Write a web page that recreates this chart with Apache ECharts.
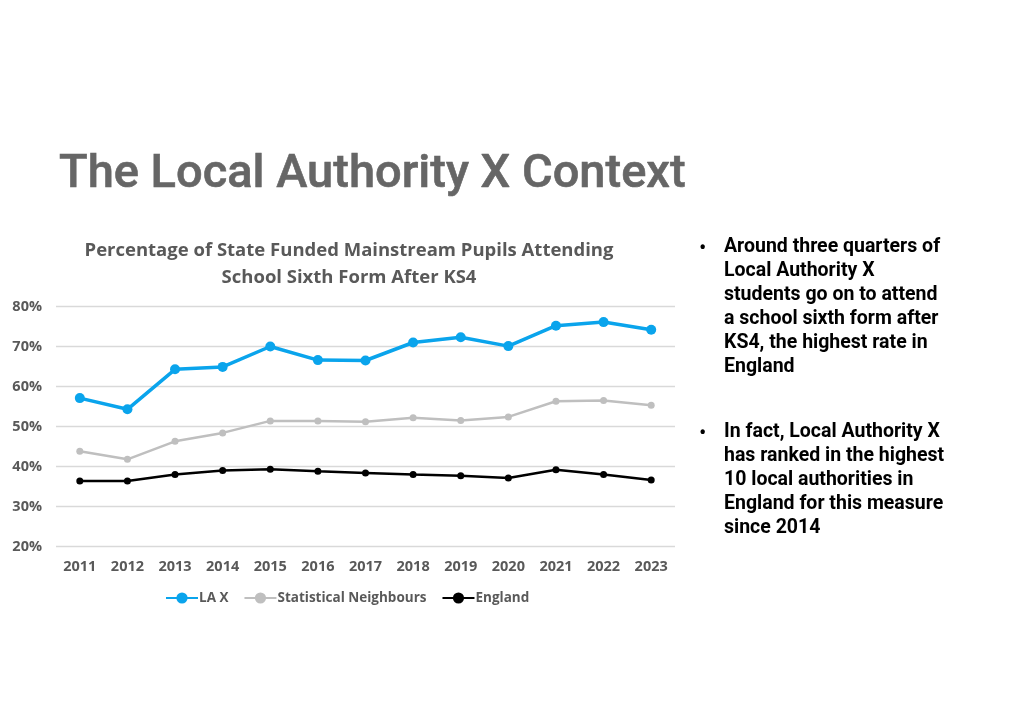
<!DOCTYPE html>
<html><head><meta charset="utf-8">
<script src="https://cdn.jsdelivr.net/npm/echarts@6/dist/echarts.min.js"></script>
<style>html,body{margin:0;padding:0;background:#fff}#c{width:1012px;height:714px}</style>
</head><body><div id="c"></div>
<script>
var years = ['2011','2012','2013','2014','2015','2016','2017','2018','2019','2020','2021','2022','2023'];
var laX = [57.1,54.3,64.3,64.9,70.0,66.6,66.5,71.0,72.3,70.1,75.2,76.1,74.2];
var statNeighbours = [43.8,41.8,46.3,48.4,51.4,51.4,51.2,52.2,51.5,52.4,56.3,56.5,55.3];
var england = [36.4,36.4,38.0,39.0,39.3,38.8,38.4,38.0,37.7,37.1,39.2,38.0,36.6];
var bullet1 = ['Around three quarters of','Local Authority X','students go on to attend','a school sixth form after','KS4, the highest rate in','England'];
var bullet2 = ['In fact, Local Authority X','has ranked in the highest','10 local authorities in','England for this measure','since 2014'];

var chart = echarts.init(document.getElementById('c'));
var lbl = '#595959';
var cfont = '"Open Sans", "DejaVu Sans", sans-serif';
chart.setOption({
  backgroundColor: '#fff',
  animation: false,
  title: [
    {text: 'The Local Authority X Context', left: 54, top: 147,
     textStyle: {fontFamily: 'Roboto, sans-serif', fontWeight: 500, fontSize: 47, color: '#666666', textBorderColor: '#666666', textBorderWidth: 0.6}},
    {text: 'Percentage of State Funded Mainstream Pupils Attending\nSchool Sixth Form After KS4', left: 344, top: 232, textAlign: 'center',
     textStyle: {fontFamily: cfont, fontWeight: 'bold', fontSize: 18.5, color: lbl, lineHeight: 27}}
  ],
  graphic: [
    {type: 'text', left: 699, top: 238, style: {text: '•', fontFamily: 'Roboto, sans-serif', fontSize: 22, fill: '#000'}},
    {type: 'text', left: 724, top: 235, style: {text: bullet1.join('\n'), fontFamily: 'Roboto, sans-serif', fontWeight: 'bold', fontSize: 19.5, lineHeight: 24, fill: '#000'}},
    {type: 'text', left: 699, top: 423, style: {text: '•', fontFamily: 'Roboto, sans-serif', fontSize: 22, fill: '#000'}},
    {type: 'text', left: 724, top: 420, style: {text: bullet2.join('\n'), fontFamily: 'Roboto, sans-serif', fontWeight: 'bold', fontSize: 19.5, lineHeight: 24, fill: '#000'}}
  ],
  legend: {
    left: 160, top: 586, itemWidth: 32, itemHeight: 14, itemGap: 15,
    textStyle: {fontFamily: cfont, fontWeight: 'bold', fontSize: 13.5, color: lbl, padding: [0,0,0,-4]},
    data: ['LA X','Statistical Neighbours','England']
  },
  grid: {left: 56, right: 337, top: 306.5, bottom: 167.5},
  xAxis: {
    type: 'category', data: years, boundaryGap: true,
    axisLine: {show: false}, axisTick: {show: false},
    axisLabel: {margin: 13, fontFamily: cfont, fontWeight: 'bold', fontSize: 14.5, color: lbl}
  },
  yAxis: {
    type: 'value', min: 20, max: 80, interval: 10,
    axisLine: {show: false}, axisTick: {show: false},
    axisLabel: {margin: 14, formatter: '{value}%', fontFamily: cfont, fontWeight: 'bold', fontSize: 14.5, color: lbl},
    splitLine: {lineStyle: {color: '#d9d9d9', width: 1.3}}
  },
  series: [
    {name: 'LA X', type: 'line', data: laX, symbol: 'circle', symbolSize: 10,
     lineStyle: {color: '#0aa4ec', width: 3.5}, itemStyle: {color: '#0aa4ec'}},
    {name: 'Statistical Neighbours', type: 'line', data: statNeighbours, symbol: 'circle', symbolSize: 7,
     lineStyle: {color: '#bfbfbf', width: 2.5}, itemStyle: {color: '#bfbfbf'}},
    {name: 'England', type: 'line', data: england, symbol: 'circle', symbolSize: 7,
     lineStyle: {color: '#000', width: 2.5}, itemStyle: {color: '#000'}}
  ]
});
</script></body></html>
